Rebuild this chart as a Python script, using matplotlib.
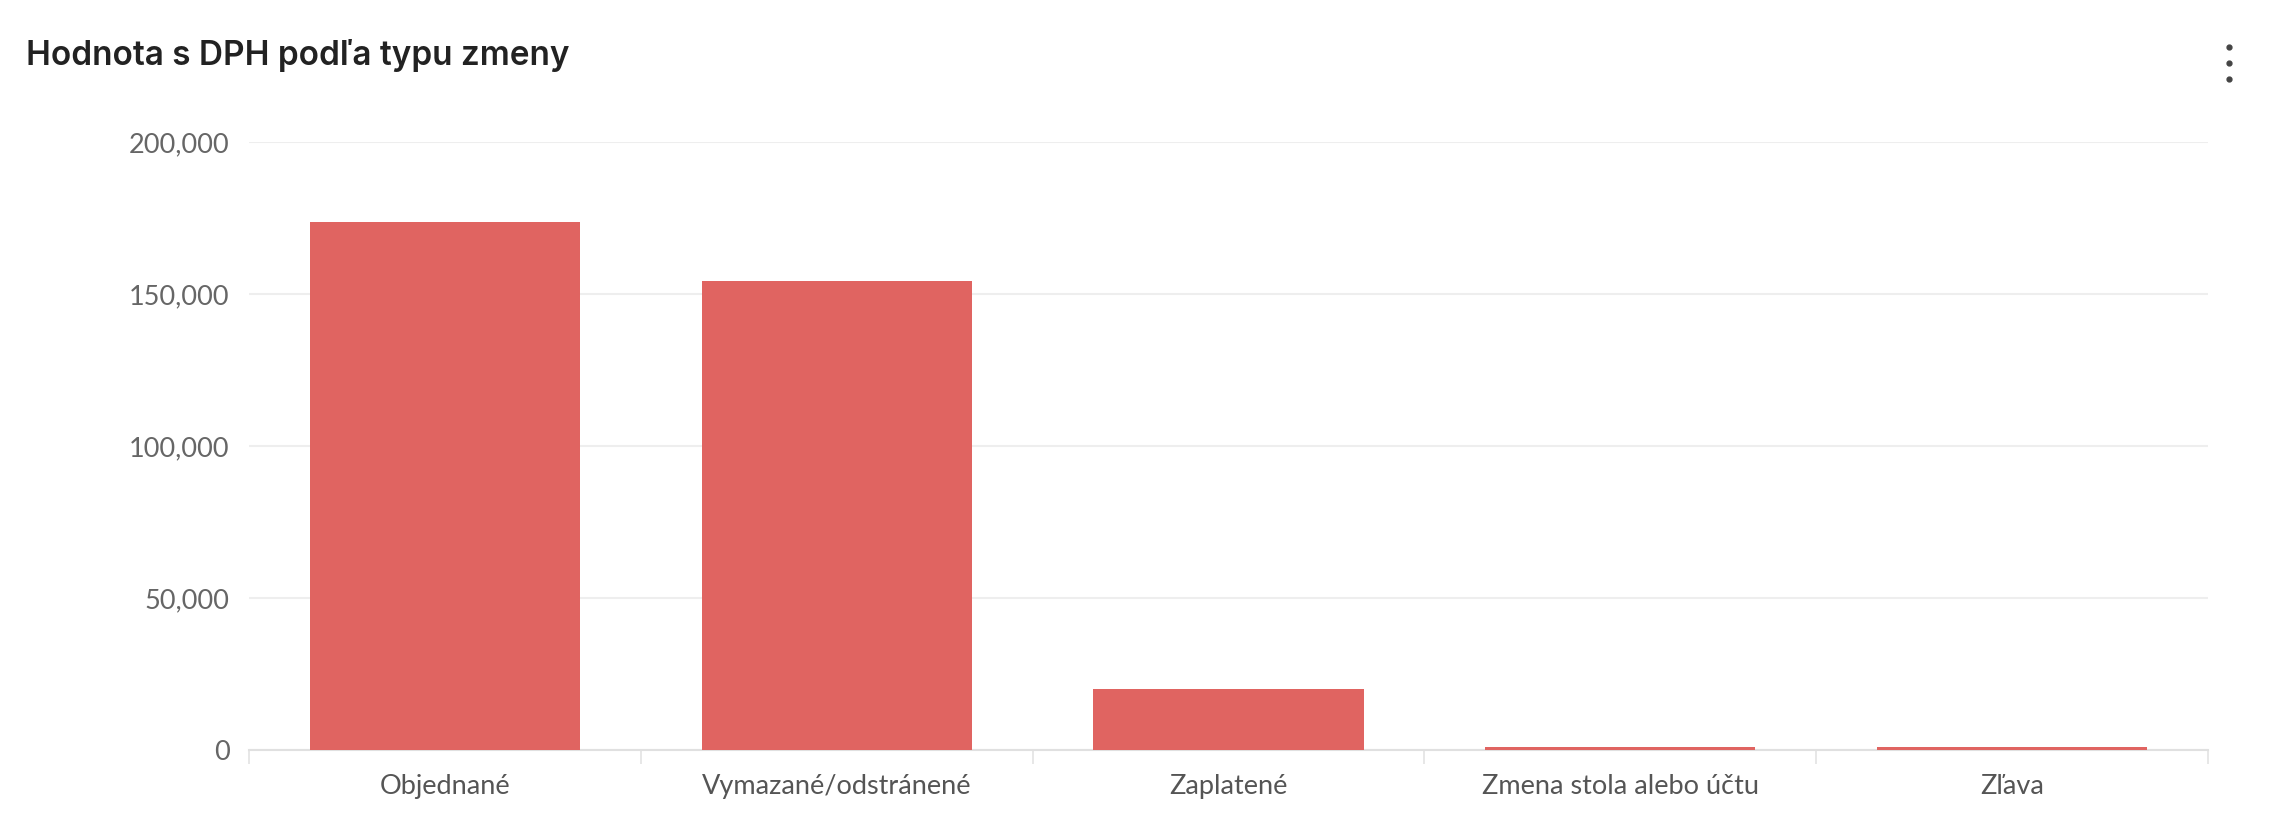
import matplotlib
matplotlib.use("Agg")
import matplotlib.pyplot as plt
from matplotlib.ticker import FuncFormatter, FixedLocator

categories = ["Objednané", "Vymazané/odstránené", "Zaplatené", "Zmena stola alebo účtu", "Zľava"]
values = [173800, 154300, 20000, 1000, 1000]
yticks = [0, 50000, 100000, 150000, 200000]
title = "Hodnota s DPH podľa typu zmeny"

plt.rcParams['font.family'] = ['Lato', 'DejaVu Sans']

fig = plt.figure(figsize=(22.7, 8.16), dpi=100)
ax = fig.add_axes([0.1097, 0.0809, 0.9727 - 0.1097, 0.826 - 0.0809])

x = list(range(len(categories)))
ax.bar(x, values, width=0.69, color="#E06461", zorder=3)

ax.set_xlim(-0.5, len(categories) - 0.5)
ax.set_ylim(0, 200000)
ax.set_yticks(yticks)
ax.yaxis.set_major_formatter(FuncFormatter(lambda v, p: f"{int(v):,}"))
ax.grid(axis='y', color="#EEEEEE", linewidth=1.5, zorder=0)
ax.set_axisbelow(True)

ax.set_xticks(x)
ax.set_xticklabels(categories)
ax.xaxis.set_minor_locator(FixedLocator([i - 0.5 for i in range(len(categories) + 1)]))
ax.tick_params(axis='x', which='major', length=0, pad=17, labelsize=19.5, labelcolor="#555555")
ax.tick_params(axis='x', which='minor', length=10, width=1.2, color="#E3E3E3")
ax.tick_params(axis='y', length=0, pad=14, labelsize=19.5, labelcolor="#666666")

for s in ["top", "right", "left"]:
    ax.spines[s].set_visible(False)
ax.spines["bottom"].set_color("#E0E0E0")
ax.spines["bottom"].set_linewidth(1.5)

fig.text(26 / 2270, 1 - 55 / 816, title, fontsize=24, fontweight='semibold',
         color="#222222", va='center', ha='left', family=['Inter', 'DejaVu Sans'])

# menu dots
for yy in [47, 63, 79]:
    fig.add_artist(plt.Line2D([2229 / 2270], [1 - yy / 816], marker='o', markersize=3.5,
                              color="#444444", transform=fig.transFigure))

fig.savefig("out.png", dpi=100)
